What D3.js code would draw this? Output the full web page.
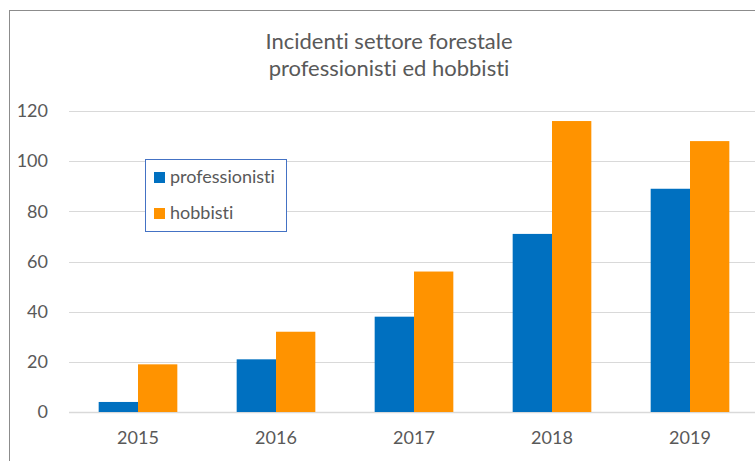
<!DOCTYPE html>
<html lang="it">
<head>
  <meta charset="UTF-8" />
  <title>Incidenti settore forestale</title>
  <script src="https://d3js.org/d3.v7.min.js"></script>
  <style>
    html, body { margin: 0; padding: 0; background: #fff; }
    svg text { font-family: Lato, "Open Sans", sans-serif; fill: #595959; font-variant-ligatures: none; }
  </style>
</head>
<body>
  <div id="chart"></div>

  <script>
    // Dati
    const anni = ["2015", "2016", "2017", "2018", "2019"];
    const serie = ["professionisti", "hobbisti"];
    const professionisti = [4, 21, 38, 71, 89];
    const hobbisti = [19, 32, 56, 116, 108];
    const yTicks = [0, 20, 40, 60, 80, 100, 120];
    const colori = ["#0070C0", "#FF9300"];

    const width = 755, height = 461;
    const margin = { top: 111, right: -4, bottom: 49, left: 69 };

    const svg = d3.select("#chart")
      .append("svg")
      .attr("width", width)
      .attr("height", height);

    // cornice del grafico
    svg.append("rect")
      .attr("x", 9.5).attr("y", 10.5)
      .attr("width", 800).attr("height", 500)
      .attr("fill", "none")
      .attr("stroke", "#8c8c8c")
      .attr("stroke-width", 1);

    // titolo
    const titolo = svg.append("text")
      .attr("text-anchor", "middle")
      .attr("x", 389)
      .style("font-size", "22px");
    titolo.append("tspan").attr("x", 389).attr("y", 49).text("Incidenti settore forestale");
    titolo.append("tspan").attr("x", 389).attr("y", 76).text("professionisti ed hobbisti");

    const x0 = d3.scaleBand()
      .domain(anni)
      .range([margin.left, width - margin.right])
      .paddingInner(0.43)
      .paddingOuter(0.215);

    const x1 = d3.scaleBand()
      .domain(serie)
      .range([0, x0.bandwidth()]);

    const y = d3.scaleLinear()
      .domain([0, 120])
      .range([height - margin.bottom, margin.top]);

    // griglia orizzontale
    svg.append("g")
      .selectAll("line")
      .data(yTicks)
      .enter()
      .append("line")
      .attr("x1", margin.left)
      .attr("x2", width)
      .attr("y1", d => Math.round(y(d)) + 0.5)
      .attr("y2", d => Math.round(y(d)) + 0.5)
      .attr("stroke", "#d9d9d9")
      .attr("stroke-width", d => d === 0 ? 1.5 : 1);

    // etichette asse y
    svg.append("g")
      .selectAll("text")
      .data(yTicks)
      .enter()
      .append("text")
      .attr("x", 48)
      .attr("y", d => y(d))
      .attr("dy", "0.35em")
      .attr("text-anchor", "end")
      .style("font-size", "18px")
      .text(d => d);

    // barre
    const dati = anni.map((a, i) => ({ anno: a, valori: [professionisti[i], hobbisti[i]] }));

    const gruppi = svg.append("g")
      .selectAll("g")
      .data(dati)
      .enter()
      .append("g")
      .attr("transform", d => `translate(${x0(d.anno)},0)`);

    gruppi.selectAll("rect")
      .data(d => d.valori.map((v, j) => ({ serie: serie[j], value: v, color: colori[j] })))
      .enter()
      .append("rect")
      .attr("x", d => x1(d.serie))
      .attr("width", x1.bandwidth())
      .attr("y", d => y(d.value))
      .attr("height", d => y(0) - y(d.value))
      .attr("fill", d => d.color);

    // etichette asse x
    svg.append("g")
      .selectAll("text")
      .data(anni)
      .enter()
      .append("text")
      .attr("x", d => x0(d) + x0.bandwidth() / 2)
      .attr("y", 444)
      .attr("text-anchor", "middle")
      .style("font-size", "18px")
      .text(d => d);

    // legenda
    const legenda = svg.append("g");
    legenda.append("rect")
      .attr("x", 145.5).attr("y", 159.5)
      .attr("width", 141).attr("height", 72)
      .attr("fill", "#fff")
      .attr("stroke", "#4472C4")
      .attr("stroke-width", 1);

    serie.forEach((s, i) => {
      const yy = 172 + i * 36;
      legenda.append("rect")
        .attr("x", 154).attr("y", yy)
        .attr("width", 11).attr("height", 11)
        .attr("fill", colori[i]);
      legenda.append("text")
        .attr("x", 170).attr("y", yy + 11)
        .style("font-size", "18px")
        .text(s);
    });
  </script>
</body>
</html>
